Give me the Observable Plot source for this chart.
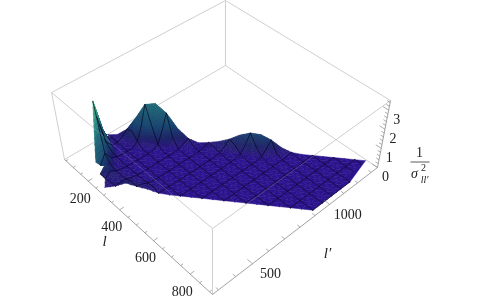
<!DOCTYPE html>
<html><head><meta charset="utf-8">
<script src="https://cdn.jsdelivr.net/npm/d3@7"></script>
<script src="https://cdn.jsdelivr.net/npm/@observablehq/plot@0.6"></script>
<style>html,body{margin:0;padding:0;background:#fff;overflow:hidden}svg{display:block;filter:blur(.35px)}svg text,svg tspan{font-family:"Liberation Serif",serif !important}</style>
</head><body><div id="chart"></div>
<script>
// axes
const lDomain = [40, 915], lpDomain = [266, 1348], zDomain = [0, 3.5];
const lMajor = [200, 400, 600, 800];
const lMinor = [50, 100, 150, 250, 300, 350, 450, 500, 550, 650, 700, 750, 850, 900];
const lpMajor = [500, 1000];
const lpMinor = [300, 400, 600, 700, 800, 900, 1100, 1200, 1300];
const zMajor = [0, 1, 2, 3];
const zMinor = [0.2, 0.4, 0.6, 0.8, 1.2, 1.4, 1.6, 1.8, 2.2, 2.4, 2.6, 2.8, 3.2, 3.4];
// surface grid: row i is l = lStart + i*step; column k is l' = l + gapStart + k*step
const lStart = 48, gapStart = 22, step = 32.5;
const N = null;
const surface = [
 [N,N,N,N,N,N,N,N,N,N,N,N,N,N,.05],
 [N,N,N,N,N,N,N,N,N,N,N,1.1,.35,.1,.12],
 [N,N,N,N,N,N,N,N,N,1.9,.4,.1,.08,.22,.45],
 [N,N,N,N,N,N,.1,3.1,1.4,.15,.05,.05,.13,.55,1.1],
 [N,N,N,N,N,.15,.6,.2,.08,.05,.05,.06,.22,.92,1.85],
 [N,N,N,.1,.4,.25,.1,.05,.04,.04,.04,.05,.23,.97,1.95],
 [N,N,.1,.3,.15,.08,.05,.04,.03,.03,.03,.04,.18,.75,1.5],
 [.05,.15,.22,.15,.08,.05,.03,.03,.03,.02,.02,.03,.09,.38,.75],
 [.18,.22,.18,.1,.05,.03,.03,.02,.02,.02,.02,.02,.05,.14,.28],
 [.4,.3,.14,.07,.04,.03,.02,.02,.02,.02,.02,.02,.03,.06,.1],
 [.28,.22,.1,.05,.03,.02,.02,.02,.02,.02,.02,.02,.04,.1,.17],
 [.2,.15,.07,.04,.03,.02,.02,.02,.02,.02,.02,.03,.05,.14,.28],
 [.05,.06,.04,.03,.02,.02,.02,.02,.02,.02,.02,.03,.07,.23,.45],
 [.02,.02,.02,.02,.02,.02,.02,.02,.02,.02,.02,.03,.09,.36,.72],
 [.02,.02,.02,.02,.02,.02,.02,.02,.02,.02,.02,.03,.11,.44,.88],
 [.02,.02,.02,.02,.02,.02,.02,.02,.02,.02,.02,.03,.1,.42,.85],
 [.02,.02,.02,.02,.02,.02,.02,.02,.02,.02,.02,.03,.08,.31,.62],
 [.02,.02,.02,.02,.02,.02,.02,.02,.02,.02,.02,.02,.05,.14,.28],
 [.02,.02,.02,.02,.02,.02,.02,.02,.02,.02,.02,.02,.03,.05,.08],
 [.02,.02,.02,.02,.02,.02,.02,.02,.02,.02,.02,.02,.02,.03,.03],
 [.02,.02,.02,.02,.02,.02,.02,.02,.02,.02,.02,.02,.02,.03,.03],
 [.02,.02,.02,.02,.02,.02,.02,.02,.02,.02,.02,.02,.02,.02,.03],
 [.02,.02,.02,.02,.02,.02,.02,.02,.02,.02,.02,.02,.02,.02,.03],
 [.02,.02,.02,.02,.02,.02,.02,.02,.02,.02,.02,.02,.02,.02,.03],
 [.02,.02,.02,.02,.02,.02,.02,.02,.02,.02,.02,.02,.02,.02,.03],
 [.02,.02,.02,.02,.02,.02,.02,.02,.02,.02,.02,.02,.02,.02,.03],
 [.02,.02,.02,.02,.02,.02,.02,.02,.02,N,N,N,N,N,N]
];
// lit left face of the spike: added to the colour value only [i, k, lift]
const spikeLift = [[3,6,1.3],[4,5,.8],[5,3,.3],[5,4,.4],[6,2,.1],[4,6,.4],[3,8,.3]];
const colorDomain = [0, .12, .4, .9, 1.9, 2.3, 3.0];
const colorRange = ["#2a1290", "#29177e", "#1f2468", "#1a4570", "#226a78", "#2b8c84", "#45b583"];

// camera: where the box corners fall on the page
const floorQuad = [[64,159],[212,294],[377,167],[225,65]];
const topQuad = [[51,92],[212,228],[390,100],[225,0]];
function homography([p0,p1,p2,p3]) {
  const d1x=p1[0]-p2[0], d1y=p1[1]-p2[1], d2x=p3[0]-p2[0], d2y=p3[1]-p2[1];
  const sx=p0[0]-p1[0]+p2[0]-p3[0], sy=p0[1]-p1[1]+p2[1]-p3[1];
  const det=d1x*d2y-d2x*d1y;
  const g=(sx*d2y-d2x*sy)/det, h=(d1x*sy-sx*d1y)/det;
  return (a,b)=>{
    const w=g*a+h*b+1;
    return [((p1[0]-p0[0]+g*p1[0])*a+(p3[0]-p0[0]+h*p3[0])*b+p0[0])/w,
            ((p1[1]-p0[1]+g*p1[1])*a+(p3[1]-p0[1]+h*p3[1])*b+p0[1])/w];
  };
}
const Hf=homography(floorQuad), Ht=homography(topQuad);
function proj(l,lp,z){
  const a=(l-lDomain[0])/(lDomain[1]-lDomain[0]), b=(lp-lpDomain[0])/(lpDomain[1]-lpDomain[0]), c=(z-zDomain[0])/(zDomain[1]-zDomain[0]);
  const f=Hf(a,b), t=Ht(a,b);
  return [f[0]+(t[0]-f[0])*c, f[1]+(t[1]-f[1])*c];
}
const vert=(i,k)=>{
  const z=(surface[i]||[])[k];
  if (z==null) return null;
  const l=lStart+i*step;
  const lift=spikeLift.find(d=>d[0]===i&&d[1]===k);
  return {l, lp:l+gapStart+k*step, z, c:z+(lift?lift[2]:0)};
};

// faces, back to front
const tris=[];
for(let i=0;i<surface.length-1;i++) for(let k=0;k<14;k++){
  const A=vert(i,k),B=vert(i+1,k),C=vert(i,k+1),D=vert(i+1,k+1);
  if(A&&B&&C) tris.push([A,B,C]);
  if(B&&C&&D) tris.push([B,D,C]);
}
tris.push([vert(26,8),vert(25,14),vert(25,9)]);
tris.push([vert(6,2),vert(7,0),vert(7,1)]);
const depth=t=>d3.mean(t,v=>proj(v.l,v.lp,0)[1]);
tris.sort((p,q)=>depth(p)-depth(q));
const faces=[]; let fid=0;
const mix=(t,u,v)=>{const w=1-u-v;return {l:t[0].l*w+t[1].l*u+t[2].l*v,lp:t[0].lp*w+t[1].lp*u+t[2].lp*v,z:t[0].z*w+t[1].z*u+t[2].z*v,c:t[0].c*w+t[1].c*u+t[2].c*v};};
function addFace(ps){
  const v=d3.mean(ps,p=>p.c), id=fid++;
  for(const p of [...ps,ps[0]]){const [x,y]=proj(p.l,p.lp,p.z);faces.push({id,x,y,v});}
}
for(const t of tris){
  const zs=t.map(v=>v.c);
  const n=Math.min(10,Math.max(1,Math.ceil((d3.max(zs)-d3.min(zs))/.08)));
  for(let u=0;u<n;u++) for(let v=0;v<n-u;v++){
    addFace([mix(t,u/n,v/n),mix(t,(u+1)/n,v/n),mix(t,u/n,(v+1)/n)]);
    if(u+v<n-1) addFace([mix(t,(u+1)/n,v/n),mix(t,(u+1)/n,(v+1)/n),mix(t,u/n,(v+1)/n)]);
  }
}
// mesh: lines of constant l and constant l'
const mesh=[]; let mid=0;
function addMesh(vs){
  let id=mid++;
  for(const v of vs){ if(!v){id=mid++;continue;} const [x,y]=proj(v.l,v.lp,v.z); mesh.push({id,x,y}); }
}
for(let i=0;i<surface.length;i+=2) addMesh(d3.range(15).map(k=>vert(i,k)));
for(let j=0;j<=surface.length+14;j+=2) addMesh(d3.range(15).map(k=>vert(j-k,k)));

// box
const [l0,l1]=lDomain,[p0,p1]=lpDomain,[z0,z1]=zDomain;
const seg=(u,v)=>{const a=proj(...u),b=proj(...v);return {x1:a[0],y1:a[1],x2:b[0],y2:b[1]};};
const backEdges=[
 seg([l0,p0,z0],[l0,p1,z0]),seg([l0,p1,z0],[l1,p1,z0]),seg([l0,p1,z0],[l0,p1,z1]),
 seg([l0,p0,z1],[l0,p1,z1]),seg([l0,p1,z1],[l1,p1,z1]),seg([l0,p0,z0],[l0,p0,z1]),
 seg([l1,p0,z0],[l1,p0,z1]),seg([l0,p0,z1],[l1,p0,z1]),seg([l1,p0,z1],[l1,p1,z1])
];
const overEdges=[seg([l0,p0,z1],[l1,p0,z1]),seg([l1,p0,z1],[l1,p1,z1])];
const axisEdges=[seg([l0,p0,z0],[l1,p0,z0]),seg([l1,p0,z0],[l1,p1,z0]),seg([l1,p1,z0],[l1,p1,z1])];
const dB=s=>(p1-p0)*s, dA=(l1-l0);
const lTick=(l,s)=>seg([l,p0,z0],[l,p0+dB(s),z0]);
const pTick=(p,s)=>seg([l1,p,z0],[l1-dA*s,p,z0]);
const zTick=(z,s)=>seg([l1,p1,z],[l1-dA*s,p1,z]);
const ticks=[
 ...lMajor.map(v=>lTick(v,.022)),...lMinor.map(v=>lTick(v,.012)),
 ...lpMajor.map(v=>pTick(v,.03)),...lpMinor.map(v=>pTick(v,.016)),
 ...zMajor.map(v=>zTick(v,.03)),...zMinor.map(v=>zTick(v,.016))
];
const lab=(vals,f)=>vals.map(v=>{const [x,y]=f(v);return {x,y,t:String(v)};});
const serif="Liberation Serif";
const linkOpts={x1:"x1",y1:"y1",x2:"x2",y2:"y2"};

const chart=Plot.plot({
  width:481,height:300,margin:0,
  style:{fontFamily:serif},
  x:{domain:[0,481],range:[0,481],axis:null},
  y:{domain:[0,300],range:[0,300],axis:null},
  color:{type:"linear",domain:colorDomain,range:colorRange,legend:false},
  marks:[
    Plot.link(backEdges,{...linkOpts,stroke:"#cfcfcf",strokeWidth:1}),
    Plot.line(faces,{x:"x",y:"y",z:"id",fill:"v",stroke:"v",strokeWidth:.5,curve:"linear"}),
    Plot.line(mesh,{x:"x",y:"y",z:"id",stroke:"#05031a",strokeWidth:.8,strokeOpacity:.8,curve:"linear"}),
    Plot.link(overEdges,{...linkOpts,stroke:"#dcdcdc",strokeWidth:1,strokeOpacity:.22}),
    Plot.link(axisEdges,{...linkOpts,stroke:"#8a8a8a",strokeWidth:.8}),
    Plot.link(ticks,{...linkOpts,stroke:"#8a8a8a",strokeWidth:.7}),
    Plot.text(lab(lMajor,v=>proj(v,p0,z0)),{x:"x",y:"y",text:"t",dx:-8,dy:17,fontFamily:serif,fontSize:14,fill:"#222"}),
    Plot.text(lab(lpMajor,v=>proj(l1,v,z0)),{x:"x",y:"y",text:"t",dx:18,dy:10,fontFamily:serif,fontSize:14,fill:"#222"}),
    Plot.text(lab(zMajor,v=>proj(l1,p1,v)),{x:"x",y:"y",text:"t",dx:8,dy:9,fontFamily:serif,fontSize:14,fill:"#222"}),
    Plot.text(["l"],{x:()=>104,y:()=>241,fontFamily:serif,fontStyle:"italic",fontSize:15,fill:"#222"}),
    Plot.text(["l′"],{x:()=>327,y:()=>253,fontFamily:serif,fontStyle:"italic",fontSize:15,fill:"#222"}),
    Plot.text(["1"],{x:()=>419,y:()=>152,fontFamily:serif,fontSize:14,fill:"#222"}),
    Plot.link([{x1:410,x2:429,y1:161.5,y2:161.5}],{...linkOpts,stroke:"#333",strokeWidth:.8}),
    Plot.text(["σ"],{x:()=>414,y:()=>173,fontFamily:serif,fontStyle:"italic",fontSize:14,fill:"#222"}),
    Plot.text(["2"],{x:()=>423,y:()=>167,fontFamily:serif,fontSize:10,fill:"#222"}),
    Plot.text(["ll′"],{x:()=>424,y:()=>179,fontFamily:serif,fontStyle:"italic",fontSize:10,fill:"#222"})
  ]
});
document.getElementById("chart").append(chart);
</script></body></html>
